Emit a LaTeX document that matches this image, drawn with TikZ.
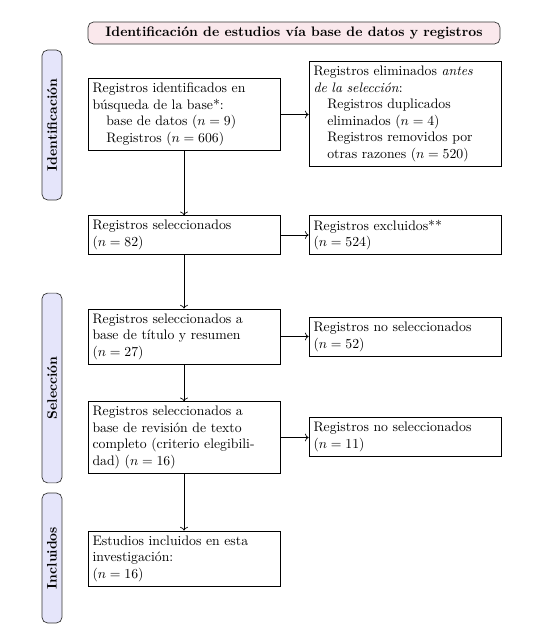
\documentclass[tikz,border=0pt]{standalone}
\usetikzlibrary{arrows.meta}
\definecolor{titlecol}{RGB}{250,232,236}
\definecolor{sidecol}{RGB}{229,229,250}
\begin{document}
\begin{tikzpicture}[x=0.72727pt,y=-0.72727pt,
  box/.style={draw, line width=0.5pt, align=left, text width=133pt, inner sep=3.33pt, font=\normalsize},
  side/.style={draw=black!80, fill=sidecol, rounded corners=4pt, rotate=90, minimum height=14.5pt, inner sep=0pt, font=\bfseries, line width=0.5pt},
  titlebox/.style={draw=black!80, fill=titlecol, rounded corners=4pt, minimum width=299.6pt, minimum height=16pt, inner sep=0pt, font=\bfseries, line width=0.5pt},
  arr/.style={->, line width=0.5pt}]
\useasboundingbox (0,0) rectangle (550,633);
\node[titlebox] (title) at (294,33) {Identificación de estudios vía base de datos y registros};
\node[side, minimum width=109pt] (s1) at (52,125) {Identificación};
\node[side, minimum width=138pt] (s2) at (52,388) {Selección};
\node[side, minimum width=94.5pt] (s3) at (52,558) {Incluidos};

\node[box] (b1) at (184,114.5) {Registros identificados en\\búsqueda de la base*:\\\hspace*{1em}base de datos ($n=9$)\\\hspace*{1em}Registros ($n=606$)};
\node[box] (r1) at (405,114) {Registros eliminados \emph{antes}\\\emph{de la selección}:\\\hspace*{1em}Registros duplicados\\\hspace*{1em}eliminados ($n=4$)\\\hspace*{1em}Registros removidos por\\\hspace*{1em}otras razones ($n=520$)};
\node[box] (b2) at (184,235) {Registros seleccionados\\($n=82$)};
\node[box] (r2) at (405,235) {Registros excluidos**\\($n=524$)};
\node[box] (b3) at (184,336.5) {Registros seleccionados a\\base de título y resumen\\($n=27$)};
\node[box] (r3) at (405,337) {Registros no seleccionados\\($n=52$)};
\node[box] (b4) at (184,437.5) {Registros seleccionados a\\base de revisión de texto\\completo (criterio elegibili-\\dad) ($n=16$)};
\node[box] (r4) at (405,437) {Registros no seleccionados\\($n=11$)};
\node[box] (b5) at (184,558.5) {Estudios incluidos en esta\\investigación:\\($n=16$)};

\draw[arr] (b1) -- (b2);
\draw[arr] (b2) -- (b3);
\draw[arr] (b3) -- (b4);
\draw[arr] (b4) -- (b5);
\draw[arr] (b1.east) -- (b1.east -| r1.west);
\draw[arr] (b2) -- (r2);
\draw[arr] (b3.east) -- (b3.east -| r3.west);
\draw[arr] (b4.east) -- (b4.east -| r4.west);
\end{tikzpicture}
\end{document}
